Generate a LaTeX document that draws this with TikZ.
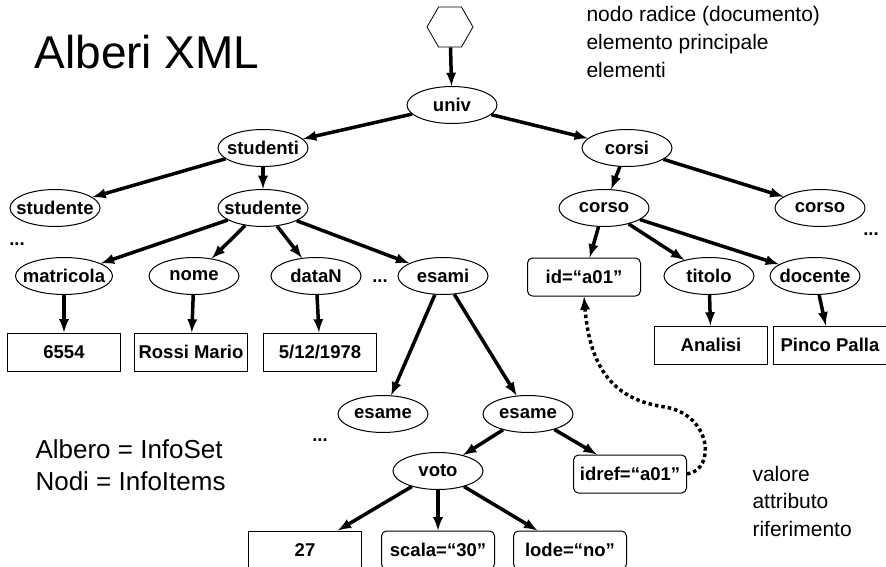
\documentclass[tikz,border=0pt]{standalone}
\usepackage{fontspec}
\setmainfont{Liberation Sans}
\usetikzlibrary{shapes.geometric}
\begin{document}
\begin{tikzpicture}[>=latex, x=1pt, y=-1pt,
    elem/.style={ellipse, draw, line width=1pt, minimum width=90pt, minimum height=37pt,
        inner xsep=-20pt, inner ysep=0pt, font=\fontsize{18.5}{22}\selectfont\bfseries},
    val/.style={rectangle, draw, line width=1pt, minimum width=113pt, minimum height=38pt,
        inner sep=0pt, font=\fontsize{18.5}{22}\selectfont\bfseries},
    attr/.style={val, rounded corners=5pt},
    link/.style={->, line width=3.5pt},
    idlink/.style={->, line width=3.5pt, dash pattern=on 3.5pt off 3pt},
    dots/.style={anchor=base, font=\fontsize{18.5}{22}\selectfont\bfseries},
    note/.style={anchor=base west, font=\fontsize{21}{25}\selectfont}]
\useasboundingbox (0,0) rectangle (886,567);

\node (title) at (31,69)[anchor=base west, font=\fontsize{46}{50}\selectfont]{Alberi XML};
\node (n1) at (583,22)[note]{nodo radice (documento)};
\node (n2) at (583,50)[note]{elemento principale};
\node (n3) at (583,78)[note]{elementi};

\node (doc) at (450,27)[regular polygon, regular polygon sides=6, minimum size=46pt,
    inner sep=0pt, draw, line width=0.8pt]{};
\node (univ) at (452,105)[elem]{univ};
\node (studenti) at (263,148)[elem]{studenti};
\node (corsi) at (627,148)[elem]{corsi};
\node (stud1) at (55,208)[elem]{studente};
\node (stud2) at (263,208)[elem]{studente};
\node (corso1) at (604,208)[elem]{corso};
\node (corso2) at (820,208)[elem]{corso};
\node (matricola) at (64,276)[elem, minimum width=97pt]{matricola};
\node (nome) at (194,276)[elem]{nome};
\node (dataN) at (316,276)[elem]{dataN};
\node (esami) at (443,276)[elem]{esami};
\node (id) at (584,277)[attr]{id=“a01”};
\node (titolo) at (709,276)[elem]{titolo};
\node (docente) at (815,276)[elem]{docente};
\node (v6554) at (64,352)[val]{6554};
\node (rossi) at (191,352)[val]{Rossi Mario};
\node (data) at (320,352)[val]{5/12/1978};
\node (analisi) at (711,345)[val]{Analisi};
\node (pinco) at (830,345)[val]{Pinco Palla};
\node (esame1) at (383,414)[elem]{esame};
\node (esame2) at (528,414)[elem]{esame};
\node (voto) at (438,471)[elem]{voto};
\node (idref) at (630,474)[attr]{idref=“a01”};
\node (v27) at (305,550)[val]{27};
\node (scala) at (438,550)[attr]{scala=“30”};
\node (lode) at (570,550)[attr]{lode=“no”};

\node (d1) at (17,245)[dots]{...};
\node (d2) at (380,282)[dots]{...};
\node (d3) at (871,235)[dots]{...};
\node (d4) at (320,441)[dots]{...};

\draw[link] (doc)--(univ);
\foreach \a/\b in {univ/studenti, univ/corsi, studenti/stud1, studenti/stud2,
    corsi/corso1, corsi/corso2, stud2/matricola, stud2/nome, stud2/dataN, stud2/esami,
    matricola/v6554, nome/rossi, dataN/data, esami/esame1, esami/esame2,
    esame2/voto, esame2/idref, voto/v27, voto/scala, voto/lode,
    corso1/id, corso1/titolo, corso1/docente, titolo/analisi, docente/pinco}
{
    \draw[link] (\a)--(\b);
}
\draw[idlink] (idref.east) .. controls (716,470) and (712,415) .. (665,407)
    .. controls (615,400) and (590,370) .. (id.south);

\node (a1) at (32,458)[anchor=base west, font=\fontsize{26}{30}\selectfont]{Albero = InfoSet};
\node (a2) at (32,490)[anchor=base west, font=\fontsize{26}{30}\selectfont]{Nodi = InfoItems};
\node (v1) at (749,481)[note]{valore};
\node (v2) at (749,508)[note]{attributo};
\node (v3) at (749,536)[note]{riferimento};
\end{tikzpicture}
\end{document}
